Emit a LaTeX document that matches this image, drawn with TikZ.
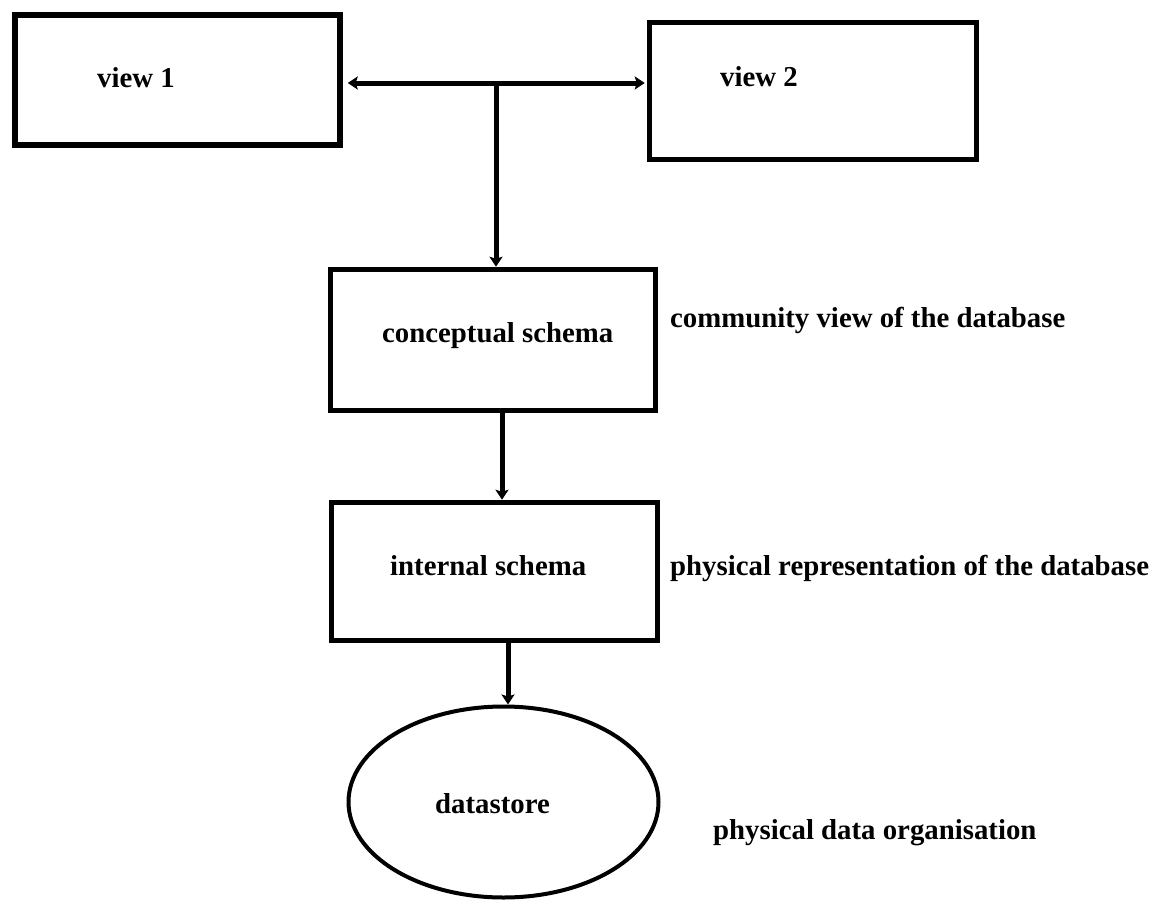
\documentclass[tikz,border=0pt]{standalone}
\usepackage{fontspec}
\setmainfont{Liberation Serif}
\usetikzlibrary{arrows.meta,shapes.geometric}
\begin{document}
\begin{tikzpicture}[x=1pt,y=-1pt,
  box/.style={draw=black,line width=5.5pt,rectangle,inner sep=0pt},
  store/.style={draw=black,line width=4pt,ellipse,inner sep=0pt},
  txt/.style={inner sep=0pt,anchor=base west,font=\fontsize{28.8}{34}\selectfont\bfseries},
  conn/.style={line width=5pt,-{Stealth[length=10pt,width=13pt,inset=2pt]}},
  conn2/.style={line width=5pt,{Stealth[length=10pt,width=13pt,inset=2pt]}-{Stealth[length=10pt,width=13pt,inset=2pt]}}
]
\useasboundingbox (0,0) rectangle (1165,902);
\fill[white] (0,0) rectangle (1165,902);

\node[box,minimum width=325pt,minimum height=130pt] (view1) at (177.5,80) {};
\node[box,minimum width=327pt,minimum height=137pt] (view2) at (813,91) {};
\node[box,minimum width=325pt,minimum height=141pt] (concept) at (493,340) {};
\node[box,minimum width=326pt,minimum height=138pt] (internal) at (494.5,571.5) {};
\node[store,minimum width=310pt,minimum height=191pt] (store) at (503.5,802) {};

\node[txt] (t1) at (97,87) {view 1};
\node[txt] (t2) at (720,86) {view 2};
\node[txt] (t3) at (382,342) {conceptual schema};
\node[txt] (t4) at (390,575) {internal schema};
\node[txt] (t5) at (435,813) {datastore};
\node[txt] (l1) at (670,327) {community view of the database};
\node[txt] (l2) at (670,575) {physical representation of the database};
\node[txt] (l3) at (713,839) {physical data organisation};

\coordinate (j) at (496,83);
\draw[conn2,shorten <=5pt,shorten >=2pt] (j -| view1.east) -- (j -| view2.west);
\draw[conn] (j) -- (j |- concept.north);
\coordinate (a) at (502,0);
\draw[conn] (a |- concept.south) -- (a |- internal.north);
\coordinate (b) at (508,0);
\draw[conn] (b |- internal.south) -- (b |- store.north);
\end{tikzpicture}
\end{document}
